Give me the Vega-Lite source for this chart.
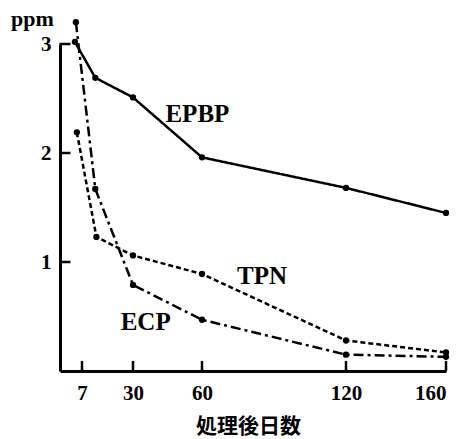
{
  "$schema": "https://vega.github.io/schema/vega-lite/v6.json",
  "autosize": "none",
  "width": 386,
  "height": 327,
  "padding": {"left": 60, "top": 44, "right": 19, "bottom": 68},
  "background": "white",
  "config": {"view": {"stroke": null}, "font": "Liberation Serif"},
  "datasets": {
    "pts": [
      {"s": "EPBP", "day": 4.1, "ppm": 3.02},
      {"s": "EPBP", "day": 13, "ppm": 2.69},
      {"s": "EPBP", "day": 30, "ppm": 2.51},
      {"s": "EPBP", "day": 60, "ppm": 1.96},
      {"s": "EPBP", "day": 120, "ppm": 1.68},
      {"s": "EPBP", "day": 160, "ppm": 1.45},
      {"s": "ECP", "day": 4.5, "ppm": 3.2},
      {"s": "ECP", "day": 13, "ppm": 1.67},
      {"s": "ECP", "day": 30, "ppm": 0.79},
      {"s": "ECP", "day": 60, "ppm": 0.47},
      {"s": "ECP", "day": 120, "ppm": 0.15},
      {"s": "ECP", "day": 160, "ppm": 0.13},
      {"s": "TPN", "day": 4.9, "ppm": 2.19},
      {"s": "TPN", "day": 13.5, "ppm": 1.23},
      {"s": "TPN", "day": 30, "ppm": 1.06},
      {"s": "TPN", "day": 60, "ppm": 0.89},
      {"s": "TPN", "day": 120, "ppm": 0.28},
      {"s": "TPN", "day": 160, "ppm": 0.17}
    ],
    "labels": [
      {"t": "EPBP", "day": 58, "ppm": 2.36},
      {"t": "TPN", "day": 85, "ppm": 0.87},
      {"t": "ECP", "day": 35.5, "ppm": 0.45}
    ],
    "tkx": [{"day": 7, "ppm": 0}, {"day": 30, "ppm": 0}, {"day": 60, "ppm": 0}, {"day": 120, "ppm": 0}, {"day": 160, "ppm": 0}],
    "tky": [{"day": -2, "ppm": 1}, {"day": -2, "ppm": 2}, {"day": -2, "ppm": 3}]
  },
  "encoding": {
    "x": {
      "field": "day", "type": "quantitative",
      "scale": {"domain": [-2, 7, 30, 60, 120, 160], "range": [0, 22, 73, 142, 286, 386]},
      "axis": {
        "values": [7, 30, 60, 120, 160], "grid": false, "ticks": false,
        "domainColor": "black", "domainWidth": 3,
        "labelFont": "Liberation Serif", "labelFontWeight": "bold", "labelFontSize": 21,
        "labelColor": "black", "labelPadding": 11,
        "title": "処理後日数", "titleFont": "Noto Sans CJK JP", "titleFontWeight": "bold",
        "titleFontSize": 21, "titleColor": "black", "titleX": 188, "titleY": 55,
        "titleBaseline": "middle"
      }
    },
    "y": {
      "field": "ppm", "type": "quantitative",
      "scale": {"domain": [0, 3], "nice": false, "zero": false},
      "axis": {
        "values": [1, 2, 3], "grid": false, "ticks": false,
        "domainColor": "black", "domainWidth": 3,
        "labelFont": "Liberation Serif", "labelFontWeight": "bold", "labelFontSize": 21,
        "labelColor": "black", "labelPadding": 9,
        "title": "ppm", "titleAngle": 0, "titleFont": "Liberation Serif", "titleFontWeight": "bold",
        "titleFontSize": 22, "titleColor": "black", "titleX": -28, "titleY": -26,
        "titleAlign": "center", "titleBaseline": "middle"
      }
    }
  },
  "layer": [
    {
      "data": {"name": "pts"},
      "mark": {"type": "line", "color": "black", "strokeWidth": 2.5},
      "encoding": {
        "detail": {"field": "s"},
        "strokeDash": {
          "field": "s", "type": "nominal",
          "scale": {"domain": ["EPBP", "TPN", "ECP"], "range": [[1, 0], [5, 3], [10, 4, 3, 4]]},
          "legend": null
        }
      }
    },
    {
      "data": {"name": "pts"},
      "mark": {"type": "point", "filled": true, "color": "black", "size": 40, "opacity": 1}
    },
    {
      "data": {"name": "labels"},
      "mark": {"type": "text", "font": "Liberation Serif", "fontWeight": "bold", "fontSize": 25, "color": "black"},
      "encoding": {"text": {"field": "t"}}
    },
    {
      "data": {"name": "tkx"},
      "mark": {"type": "tick", "orient": "vertical", "color": "black", "thickness": 2.5, "size": 10, "yOffset": -5, "opacity": 1}
    },
    {
      "data": {"name": "tky"},
      "mark": {"type": "tick", "orient": "horizontal", "color": "black", "thickness": 2.5, "size": 11, "xOffset": 5, "opacity": 1}
    }
  ]
}
